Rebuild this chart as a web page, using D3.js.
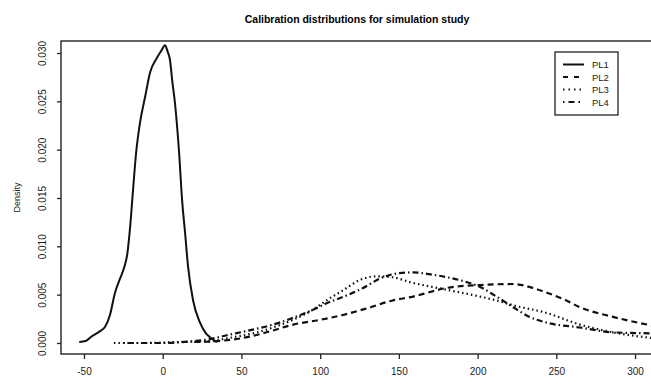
<!DOCTYPE html>
<html>
<head>
<meta charset="utf-8">
<script src="https://cdn.jsdelivr.net/npm/d3@7"></script>
<style>
  body { margin: 0; background: #fff; }
  svg { display: block; font-family: "Liberation Sans", Arial, sans-serif; }
</style>
</head>
<body>
<div id="chart"></div>
<script>
// data (x value, density)
const pl1X = [-53, -49, -45, -40, -36.5, -33.5, -30.3, -27, -24.5, -22.5, -20.8, -19, -17, -14.4, -11, -8, -4, -1, 1.5, 3, 4.6, 6, 7.8, 10.4, 12.3, 14.2, 16.1, 19.3, 23.7, 27, 30, 34.5];
const pl1Y = [0.0001, 0.0002, 0.0007, 0.0012, 0.0017, 0.0029, 0.0052, 0.0067, 0.0078, 0.0092, 0.0118, 0.0155, 0.0195, 0.0228, 0.0256, 0.0280, 0.0294, 0.0302, 0.0308, 0.0302, 0.0293, 0.0272, 0.0248, 0.0197, 0.0148, 0.0114, 0.0079, 0.0044, 0.0021, 0.0011, 0.0006, 0.0001];

const pl2X = [20, 35, 53.6, 68, 82.8, 100, 114.5, 130, 146, 159, 180.6, 201.6, 222.6, 235, 244, 255, 265, 286, 311];
const pl2Y = [0.0001, 0.0002, 0.0006, 0.0012, 0.0019, 0.0024, 0.0029, 0.0036, 0.0044, 0.0048, 0.0057, 0.0060, 0.0061, 0.0057, 0.0052, 0.0045, 0.0037, 0.0027, 0.0018];

const pl3X = [-31, -10, 10, 30, 45, 60, 70, 82.8, 95, 104, 115, 125, 136, 146, 157, 180.6, 201.6, 212, 222.6, 244, 265, 286, 311];
const pl3Y = [0.0000, 0.0000, 0.0001, 0.0002, 0.0006, 0.0011, 0.0016, 0.0024, 0.0034, 0.0044, 0.0055, 0.0065, 0.0069, 0.0068, 0.0063, 0.0055, 0.0048, 0.0044, 0.0039, 0.0031, 0.0019, 0.0011, 0.0005];

const pl4X = [-25, 0, 20, 30, 40.8, 55, 70, 82.8, 95, 104, 115, 125, 140, 149, 159, 170, 180.6, 191, 201.6, 212, 222.6, 233, 244, 265, 286, 311];
const pl4Y = [0.0000, 0.0000, 0.0002, 0.0004, 0.0008, 0.0013, 0.0019, 0.0026, 0.0034, 0.0041, 0.0048, 0.0055, 0.0068, 0.0072, 0.0073, 0.0071, 0.0068, 0.0064, 0.0058, 0.0048, 0.0037, 0.0027, 0.0021, 0.0016, 0.0011, 0.0010];

const seriesNames = ["PL1", "PL2", "PL3", "PL4"];
const xTicks = [-50, 0, 50, 100, 150, 200, 250, 300];
const yTicks = [0, 0.005, 0.010, 0.015, 0.020, 0.025, 0.030];

// 线型
const dashes = ["none", "6,4", "1.5,3", "1.5,3,6,3"];
const legendDashes = ["none", "5,6", "1.5,4", "1.5,4,6,4"];

const width = 651, height = 385;
const plot = { left: 61, right: 653, top: 41, bottom: 354 };

const svg = d3.select("#chart").append("svg")
    .attr("width", width)
    .attr("height", height);

const x = d3.scaleLinear().domain([-64.6, 311.4]).range([plot.left, plot.right]);
const y = d3.scaleLinear().domain([-0.00114, 0.03124]).range([plot.bottom, plot.top]);

svg.append("clipPath").attr("id", "clip")
  .append("rect")
    .attr("x", plot.left).attr("y", plot.top)
    .attr("width", plot.right - plot.left).attr("height", plot.bottom - plot.top);

// title
svg.append("text")
    .attr("x", (plot.left + plot.right) / 2)
    .attr("y", 23)
    .attr("text-anchor", "middle")
    .style("font-size", "10.5px")
    .style("font-weight", "bold")
    .text("Calibration distributions for simulation study");

// x axis
const xAxis = svg.append("g")
    .attr("transform", `translate(0,${plot.bottom})`)
    .call(d3.axisBottom(x).tickValues(xTicks).tickFormat(d3.format("d")).tickSize(5).tickSizeOuter(0));
xAxis.select(".domain").remove();
xAxis.selectAll("line").attr("stroke", "#222").attr("stroke-width", 1.3);
xAxis.selectAll("text")
    .attr("y", 14)
    .style("font-size", "10px")
    .attr("fill", "#222")
    .text(d => d < 0 ? "-" + Math.abs(d) : d);

// y axis
const yAxis = svg.append("g")
    .attr("transform", `translate(${plot.left},0)`)
    .call(d3.axisLeft(y).tickValues(yTicks).tickFormat(d3.format(".3f")).tickSize(4).tickSizeOuter(0));
yAxis.select(".domain").remove();
yAxis.selectAll("line").attr("stroke", "#222").attr("stroke-width", 1.3);
yAxis.selectAll("text")
    .attr("x", 0).attr("y", 0).attr("dy", null)
    .attr("text-anchor", "middle")
    .attr("transform", "translate(-15,0) rotate(-90)")
    .style("font-size", "10px")
    .attr("fill", "#222");

svg.append("text")
    .attr("transform", `translate(20,${(plot.top + plot.bottom) / 2}) rotate(-90)`)
    .attr("text-anchor", "middle")
    .style("font-size", "9px")
    .attr("fill", "#222")
    .text("Density");

// box
svg.append("rect")
    .attr("x", plot.left).attr("y", plot.top)
    .attr("width", plot.right - plot.left).attr("height", plot.bottom - plot.top)
    .attr("fill", "none").attr("stroke", "#222").attr("stroke-width", 1.4);

// curves
const seriesData = [[pl1X, pl1Y], [pl2X, pl2Y], [pl3X, pl3Y], [pl4X, pl4Y]];
const line = d3.line()
    .x(d => x(d[0]))
    .y(d => y(d[1]))
    .curve(d3.curveMonotoneX);

const curves = svg.append("g").attr("clip-path", "url(#clip)");
seriesData.forEach(([xs, ys], i) => {
    curves.append("path")
        .datum(xs.map((v, j) => [v, ys[j]]))
        .attr("d", line)
        .attr("fill", "none")
        .attr("stroke", "#111")
        .attr("stroke-width", i === 0 ? 2 : 2.2)
        .attr("stroke-dasharray", dashes[i]);
});

// legend
const legend = svg.append("g");
legend.append("rect")
    .attr("x", 555).attr("y", 52)
    .attr("width", 63).attr("height", 63)
    .attr("fill", "#fff").attr("stroke", "#222").attr("stroke-width", 1.3);

seriesNames.forEach((name, i) => {
    const ly = 64.5 + i * 12.5;
    legend.append("line")
        .attr("x1", 563).attr("x2", 584)
        .attr("y1", ly).attr("y2", ly)
        .attr("stroke", "#111").attr("stroke-width", 2)
        .attr("stroke-dasharray", legendDashes[i]);
    legend.append("text")
        .attr("x", 592).attr("y", ly + 3.5)
        .style("font-size", "9.5px")
        .attr("fill", "#222")
        .text(name);
});
</script>
</body>
</html>
